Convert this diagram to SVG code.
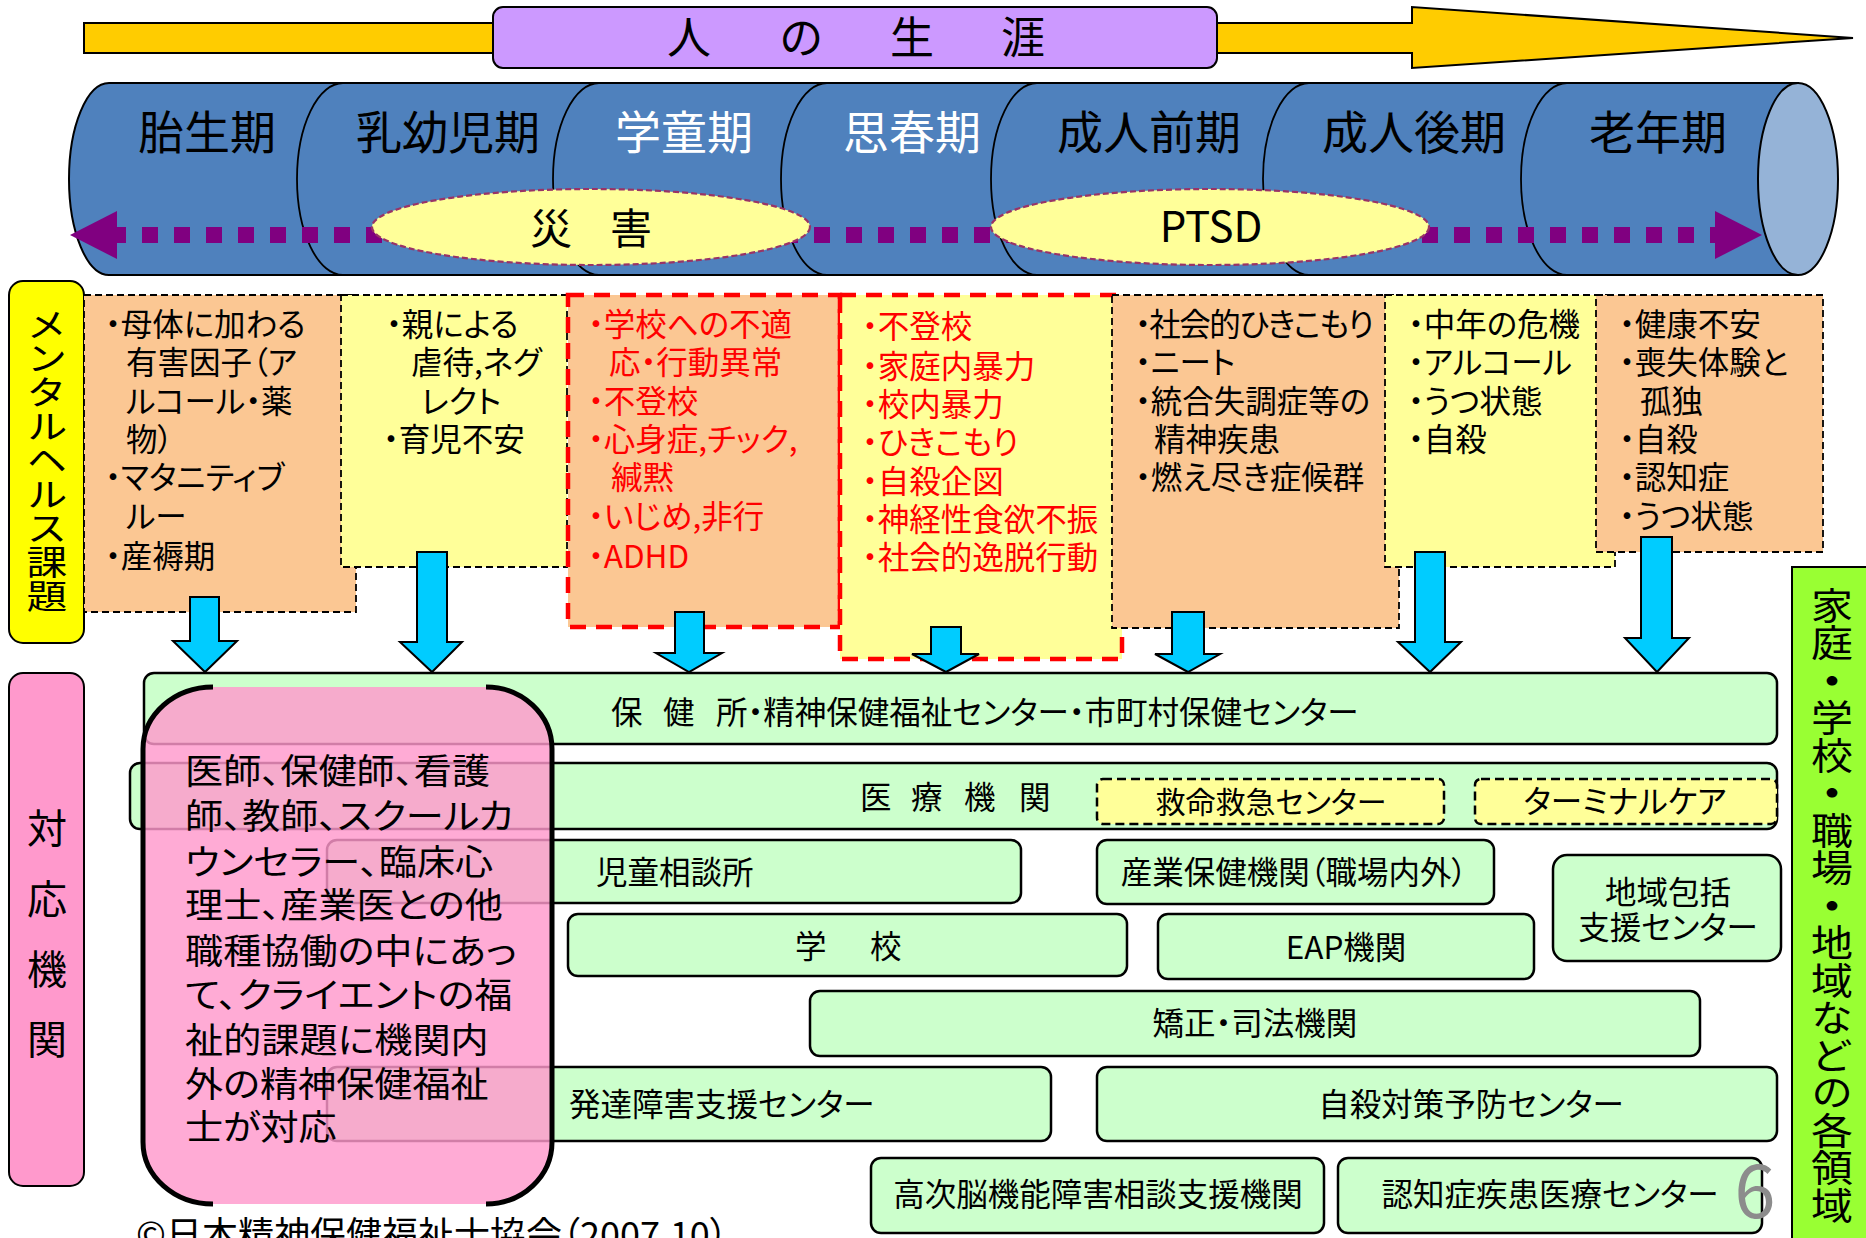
<svg xmlns="http://www.w3.org/2000/svg" width="1866" height="1238" viewBox="0 0 1866 1238">
<style>
text { font-family: "Noto Sans CJK JP", "Noto Sans CJK SC", sans-serif; font-feature-settings: "palt"; fill: #000; }
.s31 { font-size: 31.5px; }
.s30 { font-size: 30px; }
.s35 { font-size: 35px; }
.s40 { font-size: 40px; }
.s46 { font-size: 46px; }
.mid { text-anchor: middle; }
.vc { text-anchor: middle; dominant-baseline: central; }
.vert { writing-mode: vertical-rl; font-feature-settings: normal; }
.red { fill: #FF0000; }
.white { fill: #FFFFFF; }
.box-o { fill: #FBC793; stroke: #000; stroke-width: 1.8; stroke-dasharray: 7 4; }
.box-y { fill: #FFFF99; stroke: #000; stroke-width: 1.8; stroke-dasharray: 7 4; }
.box-ro { fill: #FBC793; stroke: #FF0000; stroke-width: 4.5; stroke-dasharray: 16 10; }
.box-ry { fill: #FFFF99; stroke: #FF0000; stroke-width: 4.5; stroke-dasharray: 16 10; }
.org { fill: #CCFFCC; stroke: #000; stroke-width: 2.5; }
.org-in { fill: #FFFF99; stroke: #000; stroke-width: 2.5; stroke-dasharray: 9 5; }
.down { fill: #00CCFF; stroke: #000; stroke-width: 2; }
.seg { fill: none; stroke: #000; stroke-width: 1.8; }
.ell { fill: #FFFF99; stroke: #993366; stroke-width: 2.2; stroke-dasharray: 6 3; }
</style>

<!-- Title arrow -->
<g id="life-arrow">
  <path d="M84,23 H1412 V7 L1853,38 L1412,68 V53 H84 Z" fill="#FFCC00" stroke="#000" stroke-width="2"/>
  <rect x="493" y="7" width="724" height="61" rx="10" fill="#CC99FF" stroke="#000" stroke-width="2"/>
  <text style="font-size:44px" y="54"><tspan x="667">人</tspan><tspan x="780">の</tspan><tspan x="890">生</tspan><tspan x="1001">涯</tspan></text>
</g>

<!-- Life stage cylinder -->
<g id="life-stages">
  <path d="M109,83 H1798 V275 H109 A40,96 0 0 1 109,83 Z" fill="#4F81BD" stroke="#000" stroke-width="2"/>
  <path class="seg" d="M343,83 A46,96 0 0 0 343,275"/>
  <path class="seg" d="M599,83 A46,96 0 0 0 599,275"/>
  <path class="seg" d="M827,83 A46,96 0 0 0 827,275"/>
  <path class="seg" d="M1037,83 A46,96 0 0 0 1037,275"/>
  <path class="seg" d="M1309,83 A46,96 0 0 0 1309,275"/>
  <path class="seg" d="M1567,83 A46,96 0 0 0 1567,275"/>
  <ellipse cx="1798" cy="179" rx="40" ry="96" fill="#95B3D7" stroke="#000" stroke-width="2"/>
  <text class="s46 mid" x="207" y="149">胎生期</text>
  <text class="s46 mid" x="448" y="149">乳幼児期</text>
  <text class="s46 mid white" x="684" y="149">学童期</text>
  <text class="s46 mid white" x="912" y="149">思春期</text>
  <text class="s46 mid" x="1149" y="149">成人前期</text>
  <text class="s46 mid" x="1414" y="149">成人後期</text>
  <text class="s46 mid" x="1658" y="149">老年期</text>
</g>

<!-- Dotted double arrow and overlays -->
<g id="span-arrow">
  <line x1="117" y1="235" x2="1715" y2="235" stroke="#800080" stroke-width="16" stroke-dasharray="16 16" stroke-dashoffset="7"/>
  <polygon points="70,235 117,211 117,259" fill="#800080"/>
  <polygon points="1762,235 1715,211 1715,259" fill="#800080"/>
</g>
<g id="disaster">
  <ellipse class="ell" cx="591" cy="227" rx="219" ry="38"/>
  <text style="font-size:42px" y="243.5"><tspan x="530">災</tspan><tspan x="610">害</tspan></text>
</g>
<g id="ptsd">
  <ellipse class="ell" cx="1210" cy="227" rx="219" ry="38"/>
  <text class="mid" style="font-size:42px" x="1211" y="242">PTSD</text>
</g>

<!-- Left labels -->
<g id="label-mental">
  <rect x="9" y="281" width="75" height="362" rx="14" fill="#FFFF00" stroke="#000" stroke-width="2"/>
  <text class="vert" style="font-size:34px" x="47" y="307" transform="matrix(1.2 0 0 1 -9.4 0)">メンタルヘルス課題</text>
</g>
<g id="label-agency">
  <rect x="9" y="673" width="75" height="513" rx="14" fill="#FF99CC" stroke="#000" stroke-width="2"/>
  <text class="s40 vc" x="47" y="826">対</text>
  <text class="s40 vc" x="47" y="897">応</text>
  <text class="s40 vc" x="47" y="967">機</text>
  <text class="s40 vc" x="47" y="1037">関</text>
</g>

<!-- Mental health issue boxes -->
<g id="issue-prenatal">
  <rect class="box-o" x="84" y="295" width="272" height="317"/>
  <text class="s31"><tspan x="105" y="335.5">・母体に加わる</tspan><tspan x="126" y="374">有害因子（ア</tspan><tspan x="126" y="413">ルコール・薬</tspan><tspan x="126" y="451">物）</tspan><tspan x="105" y="489">・マタニティブ</tspan><tspan x="126" y="528">ルー</tspan><tspan x="105" y="568">・産褥期</tspan></text>
</g>
<g id="issue-infant">
  <rect class="box-y" x="341" y="295" width="226" height="272"/>
  <text class="s31"><tspan x="386" y="335.5">・親による</tspan><tspan x="411" y="374">虐待,ネグ</tspan><tspan x="421" y="413">レクト</tspan><tspan x="383" y="451">・育児不安</tspan></text>
</g>
<g id="issue-school">
  <rect class="box-ro" x="568" y="295" width="272" height="332"/>
  <text class="s31 red"><tspan x="588" y="335.5">・学校への不適</tspan><tspan x="609" y="374">応・行動異常</tspan><tspan x="588" y="413">・不登校</tspan><tspan x="588" y="451">・心身症,チック,</tspan><tspan x="611" y="489">緘黙</tspan><tspan x="588" y="528">・いじめ,非行</tspan><tspan x="588" y="568">・ADHD</tspan></text>
</g>
<g id="issue-adolescent">
  <rect class="box-ry" x="840" y="295" width="282" height="364"/>
  <text class="s31 red"><tspan x="862" y="338">・不登校</tspan><tspan x="862" y="378">・家庭内暴力</tspan><tspan x="862" y="416">・校内暴力</tspan><tspan x="862" y="454">・ひきこもり</tspan><tspan x="862" y="493">・自殺企図</tspan><tspan x="862" y="531">・神経性食欲不振</tspan><tspan x="862" y="569">・社会的逸脱行動</tspan></text>
</g>
<g id="issue-early-adult">
  <rect class="box-o" x="1112" y="295" width="287" height="333"/>
  <text class="s31"><tspan x="1135" y="335.5" style="letter-spacing:-1.5px">・社会的ひきこもり</tspan><tspan x="1135" y="374">・ニート</tspan><tspan x="1135" y="413">・統合失調症等の</tspan><tspan x="1154" y="451">精神疾患</tspan><tspan x="1135" y="489">・燃え尽き症候群</tspan></text>
</g>
<g id="issue-late-adult">
  <rect class="box-y" x="1385" y="295" width="230" height="272"/>
  <text class="s31"><tspan x="1408" y="335.5">・中年の危機</tspan><tspan x="1408" y="374">・アルコール</tspan><tspan x="1408" y="413">・うつ状態</tspan><tspan x="1408" y="451">・自殺</tspan></text>
</g>
<g id="issue-elderly">
  <rect class="box-o" x="1596" y="295" width="227" height="257"/>
  <text class="s31"><tspan x="1619" y="335.5">・健康不安</tspan><tspan x="1619" y="374">・喪失体験と</tspan><tspan x="1640" y="413">孤独</tspan><tspan x="1619" y="451">・自殺</tspan><tspan x="1619" y="489">・認知症</tspan><tspan x="1619" y="528">・うつ状態</tspan></text>
</g>

<!-- Connectors: blue down arrows -->
<g id="connectors">
  <path class="down" d="M190,597 H219 V641 H237 L205,672 L173,641 H190 Z"/>
  <path class="down" d="M417,552 H447 V642 H462 L432,672 L400,642 H417 Z"/>
  <path class="down" d="M675,612 H704 V653 H722 L689,672 L656,653 H675 Z"/>
  <path class="down" d="M931,627 H961 V654 H979 L946,672 L912,654 H931 Z"/>
  <path class="down" d="M1172,612 H1204 V654 H1220 L1188,672 L1155,654 H1172 Z"/>
  <path class="down" d="M1415,552 H1445 V642 H1461 L1430,672 L1398,642 H1415 Z"/>
  <path class="down" d="M1641,537 H1672 V638 H1689 L1657,672 L1625,638 H1641 Z"/>
</g>

<!-- Agencies -->
<g id="org-health-center">
  <rect class="org" x="144" y="673" width="1633" height="71" rx="10"/>
  <text class="s31" y="724"><tspan x="611">保</tspan><tspan x="663">健</tspan><tspan x="716">所・精神保健福祉センター・市町村保健センター</tspan></text>
</g>
<g id="org-medical">
  <rect class="org" x="130" y="763" width="1647" height="66" rx="10"/>
  <text class="s31" y="809"><tspan x="860">医</tspan><tspan x="911">療</tspan><tspan x="964">機</tspan><tspan x="1019">関</tspan></text>
</g>
<g id="org-emergency">
  <rect class="org-in" x="1097" y="779" width="347" height="45" rx="6"/>
  <text class="s30 mid" x="1271" y="813">救命救急センター</text>
</g>
<g id="org-terminal">
  <rect class="org-in" x="1475" y="779" width="302" height="45" rx="6"/>
  <text class="s31 mid" x="1625" y="813">ターミナルケア</text>
</g>
<g id="org-child-guidance">
  <rect class="org" x="327" y="840" width="694" height="63" rx="10"/>
  <text class="s31" x="596" y="884">児童相談所</text>
</g>
<g id="org-occupational">
  <rect class="org" x="1097" y="840" width="397" height="64" rx="10"/>
  <text class="s31 mid" x="1294" y="884">産業保健機関（職場内外）</text>
</g>
<g id="org-community">
  <rect class="org" x="1553" y="855" width="228" height="106" rx="14"/>
  <text class="s31 mid"><tspan x="1668" y="904">地域包括</tspan><tspan x="1668" y="939">支援センター</tspan></text>
</g>
<g id="org-school">
  <rect class="org" x="568" y="914" width="559" height="62" rx="10"/>
  <text class="s31" y="958"><tspan x="795">学</tspan><tspan x="870">校</tspan></text>
</g>
<g id="org-eap">
  <rect class="org" x="1158" y="914" width="376" height="65" rx="10"/>
  <text class="s31 mid" x="1346" y="959">EAP機関</text>
</g>
<g id="org-justice">
  <rect class="org" x="810" y="991" width="890" height="65" rx="10"/>
  <text class="s31 mid" x="1255" y="1035">矯正・司法機関</text>
</g>
<g id="org-development">
  <rect class="org" x="327" y="1067" width="724" height="74" rx="10"/>
  <text class="s31" x="569" y="1116">発達障害支援センター</text>
</g>
<g id="org-suicide">
  <rect class="org" x="1097" y="1067" width="680" height="74" rx="10"/>
  <text class="s31 mid" x="1471" y="1116">自殺対策予防センター</text>
</g>
<g id="org-brain">
  <rect class="org" x="871" y="1158" width="453" height="75" rx="10"/>
  <text class="s31 mid" x="1098" y="1206">高次脳機能障害相談支援機関</text>
</g>
<g id="org-dementia">
  <rect class="org" x="1338" y="1158" width="424" height="75" rx="10"/>
  <text class="s31 mid" x="1550" y="1206">認知症疾患医療センター</text>
</g>

<!-- Pink professionals box -->
<g id="psw-box">
  <path d="M213,687 H486 A66,62 0 0 1 552,749 V1142 A66,62 0 0 1 486,1204 H213 A70,62 0 0 1 143,1142 V749 A70,62 0 0 1 213,687 Z" fill="#FF99CC" fill-opacity="0.82"/>
  <path d="M213,687 A70,62 0 0 0 143,749 V1142 A70,62 0 0 0 213,1204" fill="none" stroke="#000" stroke-width="5"/>
  <path d="M486,687 A66,62 0 0 1 552,749 V1142 A66,62 0 0 1 486,1204" fill="none" stroke="#000" stroke-width="5"/>
  <text class="s35" transform="matrix(1.09 0 0 1 -16.65 0)"><tspan x="185" y="784">医師、保健師、看護</tspan><tspan x="185" y="829">師、教師、スクールカ</tspan><tspan x="185" y="875">ウンセラー、臨床心</tspan><tspan x="185" y="918">理士、産業医との他</tspan><tspan x="185" y="964">職種協働の中にあっ</tspan><tspan x="185" y="1008">て、クライエントの福</tspan><tspan x="185" y="1053">祉的課題に機関内</tspan><tspan x="185" y="1097">外の精神保健福祉</tspan><tspan x="185" y="1140">士が対応</tspan></text>
</g>

<!-- Right domain bar -->
<g id="label-domain">
  <rect x="1792" y="567" width="90" height="690" fill="#99FF33" stroke="#000" stroke-width="2"/>
  <text class="vert" style="font-size:37.5px" x="1832" y="587" transform="matrix(1.12 0 0 1 -219.84 0)">家庭<tspan font-weight="bold">・</tspan>学校<tspan font-weight="bold">・</tspan>職場<tspan font-weight="bold">・</tspan>地域などの各領域</text>
</g>

<!-- Footer -->
<g id="footer">
  <text style="font-size:36px" x="136" y="1248">©日本精神保健福祉士協会（2007.10）</text>
  <text class="mid" style="font-size:74px; fill:#8C8C8C" x="1755" y="1218">6</text>
</g>
</svg>
